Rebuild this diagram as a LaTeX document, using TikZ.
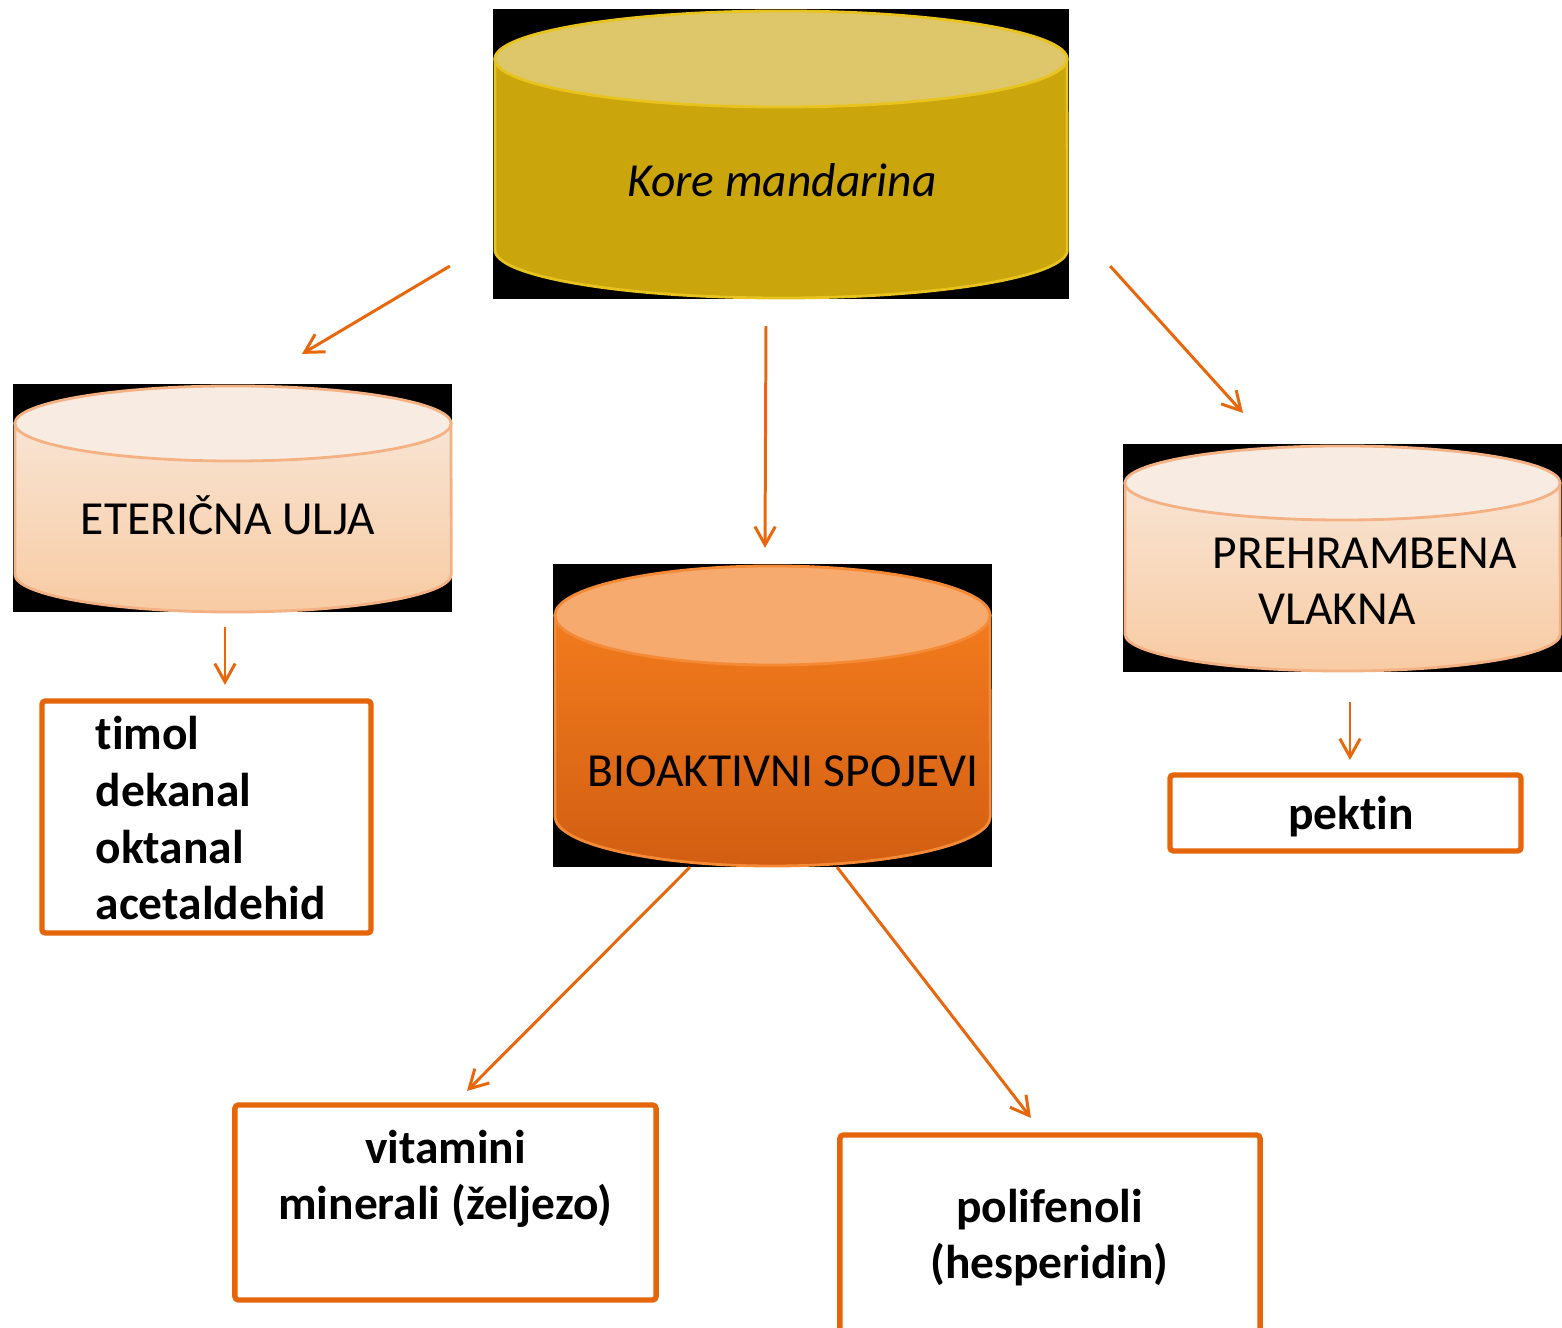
\documentclass[tikz,border=0pt]{standalone}
\usepackage{fontspec}
\setmainfont{Carlito}[Ligatures=NoCommon]
\usetikzlibrary{calc,arrows.meta,positioning}
\definecolor{peeltop}{HTML}{DDC76A}
\definecolor{peelside}{HTML}{CAA50C}
\definecolor{peelline}{HTML}{E8C31E}
\definecolor{palettop}{HTML}{F8ECE2}
\definecolor{paleup}{HTML}{F8E4D3}
\definecolor{paledown}{HTML}{F8CBA3}
\definecolor{paleline}{HTML}{F4B183}
\definecolor{biotop}{HTML}{F6AA6E}
\definecolor{bioup}{HTML}{F27B1D}
\definecolor{biodown}{HTML}{D25E12}
\definecolor{bioline}{HTML}{F58A36}
\definecolor{boxline}{HTML}{E5650A}
\definecolor{arrline}{HTML}{E8670C}

% drum: cx, rx, top y, bottom y, ry, top fill, side up, side down, line
\newcommand{\drum}[9]{%
  \pgfmathsetmacro{\drx}{#2/100}\pgfmathsetmacro{\dry}{#5/100}%
  \shadedraw[top color=#7,bottom color=#8,draw=#9,line width=0.8pt]
    (#1-#2,#3) -- (#1-#2,#4) arc[start angle=180,end angle=360,x radius=\drx cm,y radius=\dry cm] -- (#1+#2,#3) -- cycle;
  \filldraw[fill=#6,draw=#9,line width=0.8pt] (#1,#3) ellipse[x radius=\drx cm,y radius=\dry cm];
}

\tikzset{
  backdrop/.style={fill=black,inner sep=0,outer sep=0},
  txt/.style={inner sep=0,font=\fontsize{13.5}{16.2}\selectfont,anchor=base},
  itembox/.style={draw=boxline,line width=1.5pt,rounded corners=1pt,inner sep=0,outer sep=0,fill=white},
  arr/.style={draw=arrline,line width=0.85pt,-{Straight Barb[length=5.2pt,width=5.8pt]}}
}

\begin{document}
\begin{tikzpicture}[x=0.01cm,y=-0.01cm]
\useasboundingbox (0,0) rectangle (1562,1328);

% black backdrops
\node[backdrop,minimum width=5.76cm,minimum height=2.9cm] (kore) at (781,154) {};
\node[backdrop,minimum width=4.39cm,minimum height=2.28cm] (eter) at (232.5,498) {};
\node[backdrop,minimum width=4.39cm,minimum height=3.03cm] (bio) at (772.5,715.5) {};
\node[backdrop,minimum width=4.39cm,minimum height=2.28cm] (preh) at (1342.5,558) {};

% drums
\drum{781}{286}{59}{250}{48}{peeltop}{peelside}{peelside}{peelline}
\drum{233}{218}{423.5}{574.5}{37.5}{palettop}{paleup}{paledown}{paleline}
\drum{772.5}{217.5}{615.5}{816.5}{49.5}{biotop}{bioup}{biodown}{bioline}
\drum{1342.5}{217.5}{483}{634}{37}{palettop}{paleup}{paledown}{paleline}

\node[txt,font=\fontsize{13.5}{16.2}\selectfont\itshape] (kore-t) at (782,197) {Kore mandarina};
\node[txt] (eter-t) at (228,535) {ETERIČNA ULJA};
\node[txt] (bio-t) at (783,787) {BIOAKTIVNI SPOJEVI};
\node[txt,align=center] (preh-t) at (1365,625) {PREHRAMBENA\\VLAKNA\hspace*{0.56cm}};

% item boxes
\node[itembox,minimum width=3.29cm,minimum height=2.32cm] (ulja) at (206.5,817) {};
\node[itembox,minimum width=3.51cm,minimum height=0.76cm] (pektin) at (1345.5,813) {};
\node[itembox,minimum width=4.21cm,minimum height=1.95cm] (vit) at (445.5,1202.5) {};
\node[itembox,minimum width=4.2cm,minimum height=2.1cm] (pol) at (1050,1240) {};

\node[txt,font=\fontsize{13.5}{16.2}\selectfont\bfseries,align=left,anchor=base west] (ulja-t) at (95,920) {timol\\dekanal\\oktanal\\acetaldehid};
\node[txt,font=\fontsize{13.5}{16.2}\selectfont\bfseries] (pektin-t) at (1351,830) {pektin};
\node[txt,font=\fontsize{13.5}{16.2}\selectfont\bfseries,align=center] (vit-t) at (445.5,1220) {vitamini\\minerali (željezo)};
\node[txt,font=\fontsize{13.5}{16.2}\selectfont\bfseries,align=center] (pol-t) at (1049.5,1279) {polifenoli\\(hesperidin)};

% arrows
\draw[arr] ($(kore.south west)+(-43,-33)$) -- ($(eter.north)+(69.5,-30)$);
\draw[arr] ($(kore.south)+(-15,27)$) -- ($(bio.north)+(-7.5,-16)$);
\draw[arr] ($(kore.south east)+(41,-33)$) -- ($(preh.north)+(-99.5,-31)$);
\draw[arr] ($(eter.south)+(-7.5,15)$) -- ($(ulja.north)+(18.5,-16)$);
\draw[arr] ($(preh.south)+(7.5,30)$) -- ($(pektin.north)+(4.5,-15)$);
\draw[arr] ($(bio.south)+(-82.5,0)$) -- ($(vit.north)+(21.5,-14)$);
\draw[arr] ($(bio.south)+(64.5,0)$) -- ($(pol.north)+(-19,-17)$);
\end{tikzpicture}
\end{document}
